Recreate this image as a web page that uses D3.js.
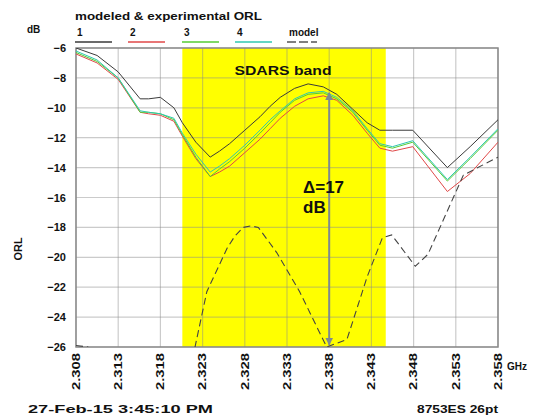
<!DOCTYPE html>
<html>
<head>
  <meta charset="UTF-8">
  <style>
    body { margin: 0; background: #fff; }
    text { font-family: "Liberation Sans", Arial, sans-serif; font-weight: bold; fill: #111; }
  </style>
</head>
<body>
<svg></svg>
<script src="https://d3js.org/d3.v7.min.js"></script>
<script>

    let width = 552;
    let height = 419;

    // frequency grid (GHz) shared by the measured traces
    let freqs = [2.3080, 2.3105, 2.3130, 2.3156, 2.3166, 2.3180, 2.3196, 2.3206, 2.3222, 2.3239,
                 2.3250, 2.3262, 2.3280, 2.3298, 2.3310, 2.3322, 2.3339, 2.3355, 2.3373, 2.3389,
                 2.3408, 2.3425, 2.3440, 2.3455, 2.3479, 2.3520, 2.3547, 2.3580];
    let trace1 = [-6.0, -6.5, -7.6, -9.4, -9.4, -9.3, -10.0, -11.0, -12.3, -13.3,
                  -12.9, -12.4, -11.5, -10.6, -9.9, -9.3, -8.7, -8.4, -8.6, -9.1,
                  -10.1, -11.0, -11.5, -11.5, -11.5, -14.0, -12.6, -10.8];
    let trace2 = [-6.4, -7.0, -8.1, -10.3, -10.4, -10.5, -10.9, -11.9, -13.4, -14.6,
                  -14.3, -13.9, -13.0, -12.1, -11.4, -10.7, -9.9, -9.4, -9.2, -9.5,
                  -10.5, -11.7, -12.7, -12.9, -12.6, -15.6, -14.4, -12.3];
    let trace3 = [-6.3, -6.9, -8.0, -10.3, -10.3, -10.4, -10.8, -11.8, -13.3, -14.6,
                  -14.1, -13.6, -12.7, -11.7, -11.0, -10.3, -9.5, -9.1, -9.0, -9.4,
                  -10.3, -11.5, -12.5, -12.7, -12.3, -14.9, -13.4, -11.5];
    let trace4 = [-6.2, -6.8, -8.0, -10.2, -10.3, -10.4, -10.7, -11.7, -13.1, -14.3,
                  -13.9, -13.4, -12.5, -11.5, -10.8, -10.2, -9.4, -9.0, -8.9, -9.3,
                  -10.2, -11.4, -12.4, -12.6, -12.2, -14.8, -13.3, -11.4];

    // model (dashed), dips below the bottom of the scale
    let modelFreqs = [2.3080, 2.3094, 2.3150, 2.3205, 2.3221, 2.3235, 2.3259, 2.3268, 2.3278, 2.3287,
                      2.3296, 2.3318, 2.3345, 2.3377, 2.3401, 2.3425, 2.3443, 2.3454, 2.3482, 2.3497,
                      2.3539, 2.3580];
    let modelVals = [-25.9, -26.0, -29.0, -27.5, -26.0, -22.3, -19.4, -18.6, -18.0, -17.9,
                     -18.0, -19.7, -22.3, -26.0, -25.5, -21.3, -18.7, -18.5, -20.6, -19.8,
                     -14.5, -13.3];

    let band = [2.3206, 2.3447];
    let xTicks = [2.308, 2.313, 2.318, 2.323, 2.328, 2.333, 2.338, 2.343, 2.348, 2.353, 2.358];
    let yTicks = [-6, -8, -10, -12, -14, -16, -18, -20, -22, -24, -26];
    let deltaFreq = 2.338;
    let deltaRange = [-9.0, -25.85];

    let legendNames = ["1", "2", "3", "4", "model"];
    let colors = ["#3a3a3a", "#e04848", "#55cc33", "#30c8b0", "#555"];

    let svg = d3.select("svg")
        .attr("width", width)
        .attr("height", height);

    let pLeft = 76, pRight = 498, pTop = 48, pBottom = 347;

    let x = d3.scaleLinear().domain([2.308, 2.358]).range([pLeft, pRight]);
    let y = d3.scaleLinear().domain([-26, -6]).range([pBottom, pTop]);

    let defs = svg.append("defs");
    defs.append("clipPath").attr("id", "plotclip")
      .append("rect")
        .attr("x", pLeft).attr("y", pTop)
        .attr("width", pRight - pLeft).attr("height", pBottom - pTop);

    // SDARS band
    svg.append("rect")
        .attr("x", x(band[0]))
        .attr("y", pTop)
        .attr("width", x(band[1]) - x(band[0]))
        .attr("height", pBottom - pTop)
        .attr("fill", "#ffff00");

    // grid
    let grid = svg.append("g").attr("stroke", "rgba(140,140,140,0.45)").attr("stroke-width", 1.2);
    grid.selectAll(".vx").data(xTicks).enter().append("line")
        .attr("x1", d => x(d)).attr("x2", d => x(d))
        .attr("y1", pTop).attr("y2", pBottom);
    grid.selectAll(".hy").data(yTicks).enter().append("line")
        .attr("x1", pLeft).attr("x2", pRight)
        .attr("y1", d => y(d)).attr("y2", d => y(d));

    // frame
    svg.append("rect")
        .attr("x", pLeft).attr("y", pTop)
        .attr("width", pRight - pLeft).attr("height", pBottom - pTop)
        .attr("fill", "none").attr("stroke", "#8a8a8a").attr("stroke-width", 1.5);

    let line = d3.line()
        .x(d => x(d[0]))
        .y(d => y(d[1]));

    let plot = svg.append("g").attr("clip-path", "url(#plotclip)");

    let traces = [trace1, trace2, trace3, trace4];
    // draw order: 2 and 3 under, 4 and 1 above
    [1, 2, 3, 0].forEach(i => {
        plot.append("path")
            .datum(freqs.map((f, k) => [f, traces[i][k]]))
            .attr("fill", "none")
            .attr("stroke", colors[i])
            .attr("stroke-width", 1)
            .attr("d", line);
    });

    plot.append("path")
        .datum(modelFreqs.map((f, k) => [f, modelVals[k]]))
        .attr("fill", "none")
        .attr("stroke", "#444")
        .attr("stroke-width", 1.1)
        .attr("stroke-dasharray", "7,4")
        .attr("d", line);

    // delta arrow
    defs.append("marker")
        .attr("id", "arrow")
        .attr("viewBox", "0 0 10 10")
        .attr("refX", 9).attr("refY", 5)
        .attr("markerWidth", 4).attr("markerHeight", 4)
        .attr("orient", "auto-start-reverse")
      .append("path")
        .attr("d", "M0,0 L10,5 L0,10 z")
        .attr("fill", "#7f8a90");

    svg.append("line")
        .attr("x1", x(deltaFreq)).attr("x2", x(deltaFreq))
        .attr("y1", y(deltaRange[0])).attr("y2", y(deltaRange[1]))
        .attr("stroke", "#7f8a90")
        .attr("stroke-width", 2)
        .attr("marker-start", "url(#arrow)")
        .attr("marker-end", "url(#arrow)");

    svg.append("text")
        .attr("x", 283).attr("y", 75)
        .attr("text-anchor", "middle")
        .style("font-size", "13px")
        .attr("textLength", 97)
        .attr("lengthAdjust", "spacingAndGlyphs")
        .text("SDARS band");

    svg.append("text")
        .attr("x", 303).attr("y", 193)
        .style("font-size", "17px")
        .text("Δ=17");
    svg.append("text")
        .attr("x", 303).attr("y", 213)
        .style("font-size", "17px")
        .text("dB");

    // axes
    let yAxis = svg.append("g")
        .attr("transform", "translate(" + (pLeft - 7) + ",0)")
        .call(d3.axisLeft(y).tickValues(yTicks).tickSize(0).tickFormat(d3.format("d")));
    yAxis.select(".domain").remove();
    yAxis.selectAll("text")
        .style("font-size", "11px")
        .style("font-family", "Liberation Sans, Arial, sans-serif")
        .attr("fill", "#111");

    let xAxis = svg.append("g")
        .attr("transform", "translate(0," + (pBottom + 6) + ")")
        .call(d3.axisBottom(x).tickValues(xTicks).tickSize(0).tickFormat(d3.format(".3f")));
    xAxis.select(".domain").remove();
    xAxis.selectAll(".tick text")
        .style("font-size", "11px")
        .style("font-family", "Liberation Sans, Arial, sans-serif")
        .attr("fill", "#111")
        .attr("transform", "rotate(-90)")
        .attr("text-anchor", "end")
        .attr("textLength", 37)
        .attr("lengthAdjust", "spacingAndGlyphs")
        .attr("x", 0)
        .attr("y", 0)
        .attr("dy", "0.3em")
        .attr("dx", "0");

    svg.append("text").attr("x", 507).attr("y", 370)
        .style("font-size", "10px").text("GHz");

    svg.append("text")
        .attr("transform", "translate(22,249) rotate(-90)")
        .attr("text-anchor", "middle")
        .style("font-size", "11px")
        .text("ORL");

    // legend
    svg.append("text").attr("x", 75).attr("y", 20)
        .style("font-size", "10px")
        .attr("textLength", 187).attr("lengthAdjust", "spacingAndGlyphs")
        .text("modeled & experimental ORL");
    svg.append("text").attr("x", 27).attr("y", 33)
        .style("font-size", "10px").text("dB");

    let legendX = [75, 128, 182, 235, 287];
    let lg = svg.append("g");
    legendNames.forEach((name, i) => {
        lg.append("text").attr("x", legendX[i] + 2).attr("y", 36)
            .style("font-size", "10px").text(name);
        lg.append("line")
            .attr("x1", legendX[i]).attr("x2", legendX[i] + (i < 4 ? 37 : 30))
            .attr("y1", 42).attr("y2", 42)
            .attr("stroke", i < 4 ? colors[i] : "#555")
            .attr("stroke-width", 1.5)
            .attr("stroke-dasharray", i < 4 ? null : "9,3");
    });

    // footer
    svg.append("text").attr("x", 28).attr("y", 413)
        .style("font-size", "10px")
        .attr("textLength", 185).attr("lengthAdjust", "spacingAndGlyphs")
        .text("27-Feb-15 3:45:10 PM");
    svg.append("text").attr("x", 417).attr("y", 413)
        .style("font-size", "10px")
        .attr("textLength", 81).attr("lengthAdjust", "spacingAndGlyphs")
        .text("8753ES 26pt");

</script>
</body>
</html>
